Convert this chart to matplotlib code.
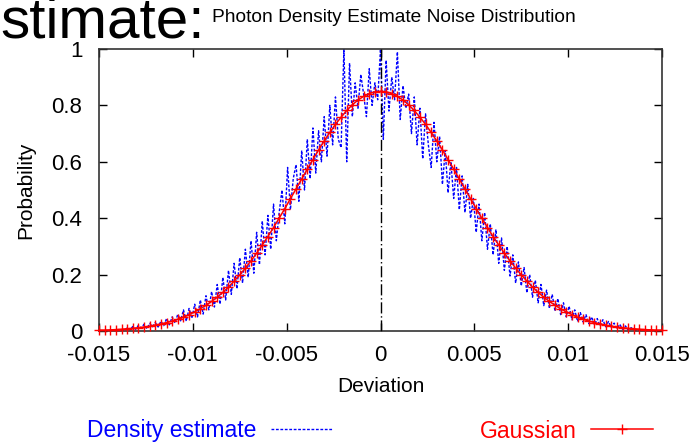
import numpy as np
import matplotlib
matplotlib.use("Agg")
import matplotlib.pyplot as plt

plt.rcParams['font.family'] = ['Liberation Sans', 'DejaVu Sans']

# ---- data ----
x_ticks = [-0.015, -0.01, -0.005, 0, 0.005, 0.01, 0.015]
x_tick_labels = ["-0.015", "-0.01", "-0.005", "0", "0.005", "0.01", "0.015"]
y_ticks = [0, 0.2, 0.4, 0.6, 0.8, 1.0]
y_tick_labels = ["0", "0.2", "0.4", "0.6", "0.8", "1"]

gauss_y = [
    0.003, 0.003, 0.004, 0.005, 0.006, 0.008, 0.009, 0.012, 0.014, 0.017,
    0.021, 0.025, 0.030, 0.035, 0.042, 0.049, 0.058, 0.068, 0.079, 0.091,
    0.105, 0.120, 0.137, 0.156, 0.177, 0.199, 0.223, 0.249, 0.276, 0.305,
    0.335, 0.367, 0.400, 0.434, 0.469, 0.504, 0.539, 0.574, 0.608, 0.642,
    0.674, 0.704, 0.733, 0.758, 0.782, 0.802, 0.819, 0.832, 0.842, 0.848,
    0.850,
    0.848, 0.842, 0.832, 0.819, 0.802, 0.782, 0.758, 0.733, 0.704, 0.674,
    0.642, 0.608, 0.574, 0.539, 0.504, 0.469, 0.434, 0.400, 0.367, 0.335,
    0.305, 0.276, 0.249, 0.223, 0.199, 0.177, 0.156, 0.137, 0.120, 0.105,
    0.091, 0.079, 0.068, 0.058, 0.049, 0.042, 0.035, 0.030, 0.025, 0.021,
    0.017, 0.014, 0.012, 0.009, 0.008, 0.006, 0.005, 0.004, 0.003, 0.003,
]
gauss_x = np.linspace(-0.015, 0.015, len(gauss_y))

density_y = [
    0, 0, 0, 0, 0, 0, 0, 0, 0, 0,
    0.012, 0.004, 0.016, 0.006, 0.020, 0.010, 0.024, 0.008, 0.027, 0.015,
    0.030, 0.014, 0.035, 0.019, 0.044, 0.022, 0.050, 0.028, 0.060, 0.036,
    0.075, 0.035, 0.080, 0.045, 0.095, 0.050, 0.110, 0.060, 0.125, 0.075,
    0.140, 0.085, 0.165, 0.095, 0.190, 0.110, 0.215, 0.130, 0.240, 0.150,
    0.260, 0.170, 0.290, 0.190, 0.320, 0.205, 0.350, 0.235, 0.390, 0.270,
    0.410, 0.290, 0.450, 0.320, 0.420, 0.500, 0.380, 0.580, 0.430, 0.540,
    0.590, 0.460, 0.640, 0.500, 0.680, 0.540, 0.720, 0.560, 0.710, 0.600,
    0.760, 0.620, 0.800, 0.660, 0.830, 0.680, 0.650, 1.000, 0.600, 0.950,
    0.760, 0.880, 0.790, 0.910, 0.840, 0.760, 0.930, 0.800, 0.880, 0.820,
    1.000,
    0.680, 0.960, 0.780, 0.900, 0.820, 0.990, 0.750, 0.870, 0.790, 0.840,
    0.700, 0.830, 0.660, 0.790, 0.610, 0.770, 0.660, 0.580, 0.740, 0.600,
    0.690, 0.520, 0.640, 0.490, 0.600, 0.470, 0.580, 0.430, 0.550, 0.420,
    0.520, 0.400, 0.470, 0.350, 0.450, 0.320, 0.420, 0.290, 0.380, 0.270,
    0.360, 0.240, 0.330, 0.215, 0.300, 0.195, 0.270, 0.170, 0.245, 0.160,
    0.225, 0.135, 0.200, 0.120, 0.180, 0.100, 0.165, 0.090, 0.145, 0.080,
    0.130, 0.070, 0.115, 0.058, 0.100, 0.050, 0.088, 0.040, 0.075, 0.034,
    0.065, 0.032, 0.058, 0.026, 0.050, 0.022, 0.044, 0.018, 0.040, 0.015,
    0.034, 0.012, 0.028, 0.008, 0.024, 0.006, 0.018, 0.004, 0.012, 0.002,
    0, 0, 0, 0, 0, 0, 0, 0, 0, 0,
]
density_x = np.linspace(-0.015, 0.015, len(density_y))

# ---- figure ----
W, H = 692, 447
fig = plt.figure(figsize=(W / 100, H / 100), dpi=100)
ax = fig.add_axes([99 / W, 1 - 331 / H, (662 - 99) / W, (331 - 49) / H])

l1, = ax.plot(density_x, density_y, color='#0000ff', lw=1.0,
              linestyle=(0, (2.0, 1.2)), label='Density estimate', zorder=2)
ax.axvline(0, color='black', lw=1.0, linestyle=(0, (8, 2, 1, 2)), zorder=3)
l2, = ax.plot(gauss_x, gauss_y, color='#ff0000', lw=1.1, marker='+',
              markersize=7, markeredgewidth=1.0, label='Gaussian',
              clip_on=False, zorder=4)

ax.set_xlim(-0.015, 0.015)
ax.set_ylim(0, 1)
ax.set_xticks(x_ticks)
ax.set_xticklabels(x_tick_labels)
ax.set_yticks(y_ticks)
ax.set_yticklabels(y_tick_labels)
ax.tick_params(direction='in', length=6, width=1, top=True, right=True,
               labelsize=16, pad=10)
ax.tick_params(axis='y', pad=12)
for s in ax.spines.values():
    s.set_linewidth(1.2)
    s.set_color('#333333')

ax.set_xlabel('Deviation', fontsize=15, labelpad=8)
ax.set_ylabel('Probability', fontsize=15, labelpad=12)

fig.text(0, 1 - 37 / H, 'stimate:', fontsize=42, ha='left', va='baseline')
fig.text(212 / W, 1 - 22 / H, 'Photon Density Estimate Noise Distribution',
         fontsize=13.8, ha='left', va='baseline')

leg = fig.legend(handles=[l1, l2], loc='center',
                 bbox_to_anchor=(370 / W, 1 - 431 / H), ncol=2,
                 frameon=False, markerfirst=False, fontsize=16.5,
                 handlelength=2.7, handletextpad=0.65, columnspacing=6.4,
                 labelcolor='linecolor', borderpad=0)

fig.savefig('out.png', dpi=100)
